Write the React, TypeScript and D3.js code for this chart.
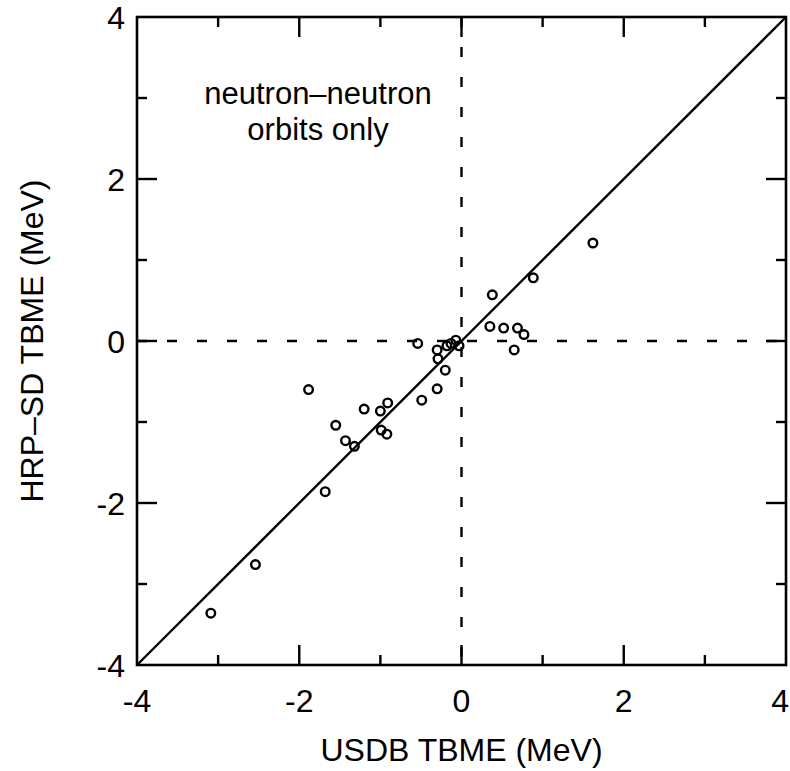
import React from "react";
import * as d3 from "d3";

const usdb = [1.62, 0.885, 0.38, 0.35, 0.52, 0.69, 0.77, 0.65, -0.54, -0.3, -0.18, -0.13, -0.07, -0.03, -0.29, -0.2, -0.3, -0.49, -0.91, -1.0, -1.2, -0.99, -0.92, -1.885, -1.55, -1.43, -1.32, -1.68, -2.54, -3.09];
const hrp = [1.21, 0.78, 0.57, 0.18, 0.16, 0.16, 0.08, -0.11, -0.03, -0.11, -0.06, -0.03, 0.01, -0.06, -0.22, -0.36, -0.59, -0.73, -0.765, -0.865, -0.84, -1.1, -1.15, -0.6, -1.04, -1.23, -1.3, -1.86, -2.76, -3.36];
const majorTicks = [-4, -2, 0, 2, 4];
const minorTicks = [-3, -1, 1, 3];
const xLabel = "USDB TBME (MeV)";
const yLabel = "HRP–SD TBME (MeV)";
const note = ["neutron–neutron", "orbits only"];

const W = 790, H = 771;
const L = 137, R = 786, T = 17, B = 665;

export default function App() {
  const x = d3.scaleLinear().domain([-4, 4]).range([L, R]);
  const y = d3.scaleLinear().domain([-4, 4]).range([B, T]);
  const font = "'Liberation Sans', Arial, Helvetica, sans-serif";
  const line = d3.line<number>().x((d) => x(d)).y((d) => y(d));
  const ticks: JSX.Element[] = [];
  const addTicks = (vals: number[], len: number, key: string) => {
    vals.forEach((v, i) => {
      if (v === -4 || v === 4) return;
      ticks.push(<line key={key + "b" + i} x1={x(v)} x2={x(v)} y1={B} y2={B - len} />);
      ticks.push(<line key={key + "t" + i} x1={x(v)} x2={x(v)} y1={T} y2={T + len} />);
      ticks.push(<line key={key + "l" + i} x1={L} x2={L + len} y1={y(v)} y2={y(v)} />);
      ticks.push(<line key={key + "r" + i} x1={R} x2={R - len} y1={y(v)} y2={y(v)} />);
    });
  };
  addTicks(majorTicks, 20, "M");
  addTicks(minorTicks, 10, "m");
  const fs = 32;
  return (
    <svg width={W} height={H} style={{ position: "absolute", left: 0, top: 0, background: "#fff" }}>
      <g stroke="#000" strokeWidth={2.4} fill="none">
        <line x1={x(0)} x2={x(0)} y1={T} y2={B} strokeDasharray="10 20" />
        <line x1={L} x2={R} y1={y(0)} y2={y(0)} strokeDasharray="10 20" />
        <path d={line([-4, 4]) || ""} />
        {ticks}
        <rect x={L} y={T} width={R - L} height={B - T} strokeWidth={2.6} />
        {usdb.map((v, i) => (
          <circle key={i} cx={x(v)} cy={y(hrp[i])} r={4.3} strokeWidth={2.4} />
        ))}
      </g>
      <g fontFamily={font} fontSize={fs} fill="#000">
        {majorTicks.map((v) => (
          <text key={"xt" + v} x={v === 4 ? W - 1 : x(v)} y={B + 47} textAnchor={v === 4 ? "end" : "middle"}>{v}</text>
        ))}
        {majorTicks.map((v) => (
          <text key={"yt" + v} x={L - 12} y={y(v) + 12} textAnchor="end">{v}</text>
        ))}
        <text x={x(0)} y={761} textAnchor="middle">{xLabel}</text>
        <text transform={`translate(43,${y(0)}) rotate(-90)`} textAnchor="middle">{yLabel}</text>
        <text x={318} y={104} textAnchor="middle" fontSize={31}>{note[0]}</text>
        <text x={318} y={140} textAnchor="middle" fontSize={31}>{note[1]}</text>
      </g>
    </svg>
  );
}
